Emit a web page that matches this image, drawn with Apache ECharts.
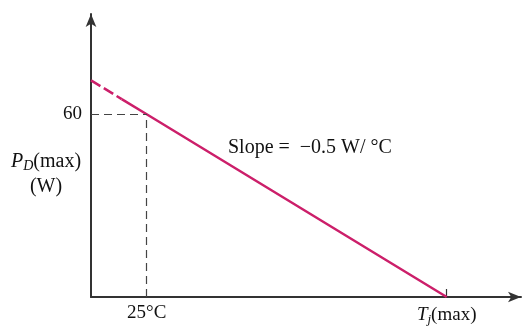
<!DOCTYPE html>
<html>
<head>
<meta charset="utf-8">
<script src="https://cdn.jsdelivr.net/npm/echarts@6/dist/echarts.min.js"></script>
<style>html,body{margin:0;padding:0;background:#fff}#c{width:528px;height:331px}</style>
</head>
<body>
<div id="c"></div>
<script>
// Data
const dashedT = [2.72, 15];
const dashedP = [71.14, 65];
const solidT = [15, 25, 145];
const solidP = [65, 60, 0];
const refT = 25;          // 25 °C guide
const refP = 60;          // 60 W guide
const tjMax = 145;        // Tj(max)
const xTickValues = [25, 145];
const xTickLabels = ['25°C', '{i|T}{sub|j}(max)'];
const yTickValues = [60];
const yTickLabels = ['60'];
const xRange = [2.72, 174.72];
const yRange = [0, 92.94];

const FONT = 'Liberation Serif';
const FS = 19;
const chart = echarts.init(document.getElementById('c'), null, {renderer: 'canvas'});
const pair = (a, b) => a.map((v, i) => [v, b[i]]);

chart.setOption({
  animation: false,
  backgroundColor: '#fff',
  grid: {left: 91, right: 7, top: 14, bottom: 34, containLabel: false, outerBoundsMode: 'none'},
  xAxis: {
    type: 'value', min: xRange[0], max: xRange[1],
    splitLine: {show: false},
    axisLine: {show: true, onZero: false, symbol: ['none', 'arrow'], symbolSize: [8, 13],
      lineStyle: {color: '#333', width: 2}},
    axisTick: {show: true, inside: true, length: 8, customValues: [tjMax], lineStyle: {color: '#333', width: 1.2}},
    axisLabel: {
      show: true, margin: 7, customValues: xTickValues,
      formatter: v => xTickLabels[xTickValues.indexOf(v)] || '',
      color: '#111', fontFamily: FONT, fontSize: FS,
      rich: {
        i: {fontFamily: FONT, fontStyle: 'italic', fontSize: FS, color: '#111'},
        sub: {fontFamily: FONT, fontStyle: 'italic', fontSize: 13, color: '#111', padding: [9, 0, 0, 0]}
      }
    },
    name: '{i|T}{sub|case}', nameLocation: 'middle', nameGap: 18,
    nameTextStyle: {
      color: '#111', fontFamily: FONT, fontSize: FS,
      rich: {
        i: {fontFamily: FONT, fontStyle: 'italic', fontSize: FS, color: '#111'},
        sub: {fontFamily: FONT, fontStyle: 'italic', fontSize: 13, color: '#111', padding: [11, 0, 0, 0]}
      }
    }
  },
  yAxis: {
    type: 'value', min: yRange[0], max: yRange[1],
    splitLine: {show: false},
    axisLine: {show: true, onZero: false, symbol: ['none', 'arrow'], symbolSize: [8, 13],
      lineStyle: {color: '#333', width: 2}},
    axisTick: {show: false},
    axisLabel: {
      show: true, margin: 9, customValues: yTickValues,
      formatter: v => yTickLabels[yTickValues.indexOf(v)] || '',
      color: '#111', fontFamily: FONT, fontSize: FS
    }
  },
  graphic: [
    {type: 'text', x: 46, y: 162, style: {
      text: '{i|P}{sub|D}(max)', align: 'center', verticalAlign: 'middle',
      fill: '#111', font: '20px "Liberation Serif"',
      rich: {
        i: {fontFamily: FONT, fontStyle: 'italic', fontSize: 20, fill: '#111'},
        sub: {fontFamily: FONT, fontStyle: 'italic', fontSize: 14, fill: '#111', padding: [9, 0, 0, 0]}
      }
    }},
    {type: 'text', x: 46, y: 187, style: {
      text: '(W)', align: 'center', verticalAlign: 'middle',
      fill: '#111', font: '20px "Liberation Serif"'
    }},
    {type: 'text', x: 228, y: 148, style: {
      text: 'Slope =  \u22120.5 W/ °C', verticalAlign: 'middle', fill: '#111', font: '20px "Liberation Serif"'
    }}
  ],
  series: [
    {
      type: 'line', data: pair(dashedT, dashedP), symbol: 'none', silent: true,
      lineStyle: {color: '#cc1f6a', width: 2.5, type: [11, 4]}
    },
    {
      type: 'line', data: pair(solidT, solidP), symbol: 'none', silent: true,
      lineStyle: {color: '#cc1f6a', width: 2.5},
      markLine: {
        silent: true, symbol: ['none', 'none'], label: {show: false},
        lineStyle: {color: '#444', width: 1.2, type: [8, 5]},
        data: [
          [{coord: [refT, 0]}, {coord: [refT, refP]}],
          [{coord: [xRange[0], refP]}, {coord: [refT, refP]}]
        ]
      },
      z: 3
    }
  ]
});
</script>
</body>
</html>
